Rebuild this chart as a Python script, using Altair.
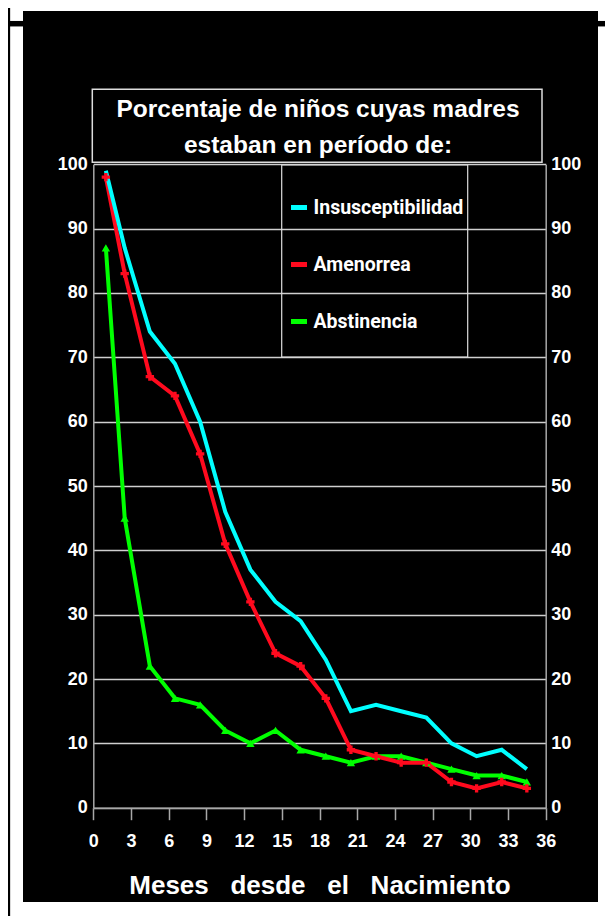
import altair as alt
import pandas as pd

# ---- data ----
months = [1, 2.5, 4.5, 6.5, 8.5, 10.5, 12.5, 14.5, 16.5, 18.5, 20.5, 22.5, 24.5, 26.5, 28.5, 30.5, 32.5, 34.5]
insusceptibilidad = [99, 87, 74, 69, 60, 46, 37, 32, 29, 23, 15, 16, 15, 14, 10, 8, 9, 6]
amenorrea = [98, 83, 67, 64, 55, 41, 32, 24, 22, 17, 9, 8, 7, 7, 4, 3, 4, 3]
abstinencia = [87, 45, 22, 17, 16, 12, 10, 12, 9, 8, 7, 8, 8, 7, 6, 5, 5, 4]

series_names = ["Insusceptibilidad", "Amenorrea", "Abstinencia"]
series_colors = ["#00ffff", "#ff0a1e", "#00ff00"]
x_ticks = list(range(0, 37, 3))
y_ticks = list(range(0, 101, 10))
title_lines = ["Porcentaje de niños cuyas madres", "estaban en período de:"]
x_title = "Meses\u00a0\u00a0\u00a0desde\u00a0\u00a0\u00a0el\u00a0\u00a0\u00a0Nacimiento"

rows = []
for name, vals in [("Abstinencia", abstinencia), ("Amenorrea", amenorrea), ("Insusceptibilidad", insusceptibilidad)]:
    for m, v in zip(months, vals):
        rows.append({"mes": m, "pct": v, "serie": name})
df = pd.DataFrame(rows)
one = pd.DataFrame({"k": [0]})

W, H = 575, 891
X_RANGE = [70.3, 522.7]
Y_RANGE = [796.7, 153.3]
FONT = "Liberation Sans, Arial, Helvetica, sans-serif"
NARROW = "Roboto, Liberation Sans, sans-serif"
BOX = "#dddddd"

xscale = alt.Scale(domain=[0, 36], range=X_RANGE, nice=False, zero=False)
yscale = alt.Scale(domain=[0, 100], range=Y_RANGE, nice=False)

x_axis = alt.Axis(values=x_ticks, offset=-(H - Y_RANGE[0]), grid=False, tickSize=12,
                  tickColor="#a8a8a8", tickWidth=1.5, domainColor="#a8a8a8", domainWidth=1.5,
                  labelColor="white", labelFont=FONT, labelFontWeight="bold", labelFontSize=18,
                  labelPadding=13, labelFlush=False, labelOverlap=False,
                  title=x_title, titleColor="white", titleFont=FONT, titleFontWeight="bold",
                  titleFontSize=26, titlePadding=22)

y_left = alt.Axis(orient="left", values=y_ticks, offset=-X_RANGE[0], grid=True,
                  gridColor="#cfcfcf", gridWidth=1.5, ticks=False,
                  domainColor="#a8a8a8", domainWidth=1.5, labelColor="white", labelFont=FONT,
                  labelFontWeight="bold", labelFontSize=18, labelPadding=6, title=None)
y_right = alt.Axis(orient="right", values=y_ticks, offset=-(W - X_RANGE[1]), grid=False,
                   ticks=False, domainColor="#a8a8a8", domainWidth=1.5, labelColor="white",
                   labelFont=FONT, labelFontWeight="bold", labelFontSize=18, labelPadding=5,
                   title=None)

legend = alt.Legend(orient="none", legendX=265.5, legendY=186, title=None, padding=0,
                    labelColor="white", labelFont=NARROW, labelFontWeight="bold",
                    labelFontSize=19.5, labelOffset=4, labelLimit=400,
                    symbolType="stroke", symbolStrokeWidth=5, symbolSize=256, rowPadding=36)

lines = alt.Chart(df).mark_line(strokeWidth=4).encode(
    x=alt.X("mes:Q", scale=xscale, axis=x_axis),
    y=alt.Y("pct:Q", scale=yscale, axis=y_left),
    color=alt.Color("serie:N", scale=alt.Scale(domain=series_names, range=series_colors), legend=legend),
    order=alt.Order("mes:Q"),
)

points = alt.Chart(df).transform_filter(alt.datum.serie != "Insusceptibilidad").mark_point(
    filled=True, opacity=1, size=70).encode(
    x=alt.X("mes:Q", scale=xscale, axis=x_axis),
    y=alt.Y("pct:Q", scale=yscale, axis=y_right),
    fill=alt.Fill("serie:N", scale=alt.Scale(domain=series_names, range=series_colors), legend=None),
    shape=alt.Shape("serie:N", scale=alt.Scale(domain=["Amenorrea", "Abstinencia"],
                                                range=["cross", "triangle-up"]), legend=None),
)

title_box = alt.Chart(one).mark_rect(fillOpacity=0, stroke=BOX, strokeWidth=1.5).encode(
    x=alt.value(69.3), x2=alt.value(519), y=alt.value(78.3), y2=alt.value(151.3))

legend_box = alt.Chart(one).mark_rect(fillOpacity=0, stroke=BOX, strokeWidth=1.2).encode(
    x=alt.value(258.7), x2=alt.value(444.7), y=alt.value(154), y2=alt.value(346))

title_text = alt.Chart(one).mark_text(
    align="center", baseline="alphabetic", lineBreak="\n", lineHeight=36,
    font=FONT, fontWeight="bold", fontSize=24.5, color="white").encode(
    x=alt.value(295), y=alt.value(106.3), text=alt.value("\n".join(title_lines)))

frame_v = alt.Chart(one).mark_rule(color="black", strokeWidth=2.7).encode(
    x=alt.value(-14.2), y=alt.value(-3), y2=alt.value(905))
frame_h1 = alt.Chart(one).mark_rule(color="black", strokeWidth=5.5).encode(
    x=alt.value(-15), x2=alt.value(0), y=alt.value(12.7))
frame_h2 = alt.Chart(one).mark_rule(color="black", strokeWidth=5.5).encode(
    x=alt.value(575), x2=alt.value(592), y=alt.value(12.7))

chart = alt.layer(lines, points, title_box, legend_box, title_text,
                  frame_v, frame_h1, frame_h2).resolve_axis(
    y="independent"
).properties(
    width=W, height=H, background="white",
    autosize=alt.AutoSizeParams(type="none"),
    padding={"left": 15, "top": 3, "right": 7, "bottom": 14},
).configure_view(fill="black", strokeWidth=0)

chart.save("out.html", embed_options={"renderer": "svg", "actions": False})
